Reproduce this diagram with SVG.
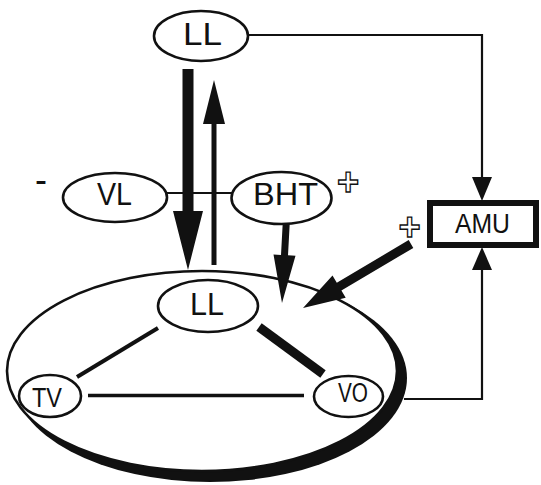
<svg xmlns="http://www.w3.org/2000/svg" width="541" height="485" viewBox="0 0 541 485">
<style>
.n{fill:#fff;stroke:#111;stroke-width:2.6}
.t{font-family:"Liberation Sans",Arial,sans-serif;fill:#111;text-anchor:middle}
.l{fill:none;stroke:#111;stroke-width:2.2}
.a{fill:#111;stroke:none}
.p{font-family:"Liberation Sans",Arial,sans-serif;font-weight:bold;font-size:38px;fill:#fff;stroke:#111;stroke-width:1.3;text-anchor:middle}
</style>
<rect width="541" height="485" fill="#fff"/>
<g id="system">
<ellipse cx="210" cy="378" rx="197" ry="104" fill="#111"/>
<ellipse cx="202" cy="371" rx="195" ry="100" class="n"/>
</g>
<g id="connectors">
<path class="l" d="M248,35 H482 V180"/>
<polygon class="a" points="472,177 492,177 482,201"/>
<path class="l" d="M404,399 H482 V266"/>
<polygon class="a" points="472,270 492,270 482,247"/>
<line class="l" x1="166" y1="193" x2="232" y2="193"/>
<path class="a" d="M182.5,69 H193.5 V211 H203 L188,270 L173,211 H182.5 Z"/>
<path class="a" d="M211.5,265 V124 H203 L214,80 L225,124 H216.5 V265 Z"/>
<path class="a" d="M283.5,208.8 L290.5,209.2 L288,255.3 L295.5,255.7 L282,303 L273.5,254.5 L281,254.9 Z"/>
<path class="a" d="M408.7,240.1 L413.3,247.9 L341.4,290.5 L345.7,297.8 L303,308 L332.5,275.4 L336.8,282.7 Z"/>
<line x1="158" y1="328" x2="77" y2="377" stroke="#111" stroke-width="4"/>
<line x1="88" y1="395.5" x2="304" y2="395.5" stroke="#111" stroke-width="3.5"/>
<line x1="259" y1="327" x2="323" y2="374" stroke="#111" stroke-width="9"/>
</g>
<g id="LL-top">
<ellipse cx="201" cy="36" rx="47" ry="25" class="n"/>
<text class="t" x="202.5" y="45" font-size="32" textLength="39" lengthAdjust="spacingAndGlyphs">LL</text>
</g>
<g id="VL">
<ellipse cx="115" cy="197.5" rx="52" ry="24.5" class="n"/>
<text class="t" x="114.5" y="205" font-size="32" textLength="35" lengthAdjust="spacingAndGlyphs">VL</text>
</g>
<g id="BHT">
<ellipse cx="281.5" cy="198" rx="50" ry="26" class="n"/>
<text class="t" x="285.5" y="205" font-size="32" textLength="65" lengthAdjust="spacingAndGlyphs">BHT</text>
</g>
<g id="AMU">
<rect x="430" y="203" width="106" height="42" fill="#fff" stroke="#111" stroke-width="6"/>
<text class="t" x="482.5" y="233" font-size="28" textLength="55" lengthAdjust="spacingAndGlyphs">AMU</text>
</g>
<g id="LL-inner">
<ellipse cx="208" cy="306" rx="50" ry="26" class="n"/>
<text class="t" x="207" y="315" font-size="32" textLength="34" lengthAdjust="spacingAndGlyphs">LL</text>
</g>
<g id="TV">
<ellipse cx="50" cy="396" rx="31" ry="21" class="n"/>
<text class="t" x="47" y="407" font-size="28" textLength="30" lengthAdjust="spacingAndGlyphs">TV</text>
</g>
<g id="VO">
<ellipse cx="348.5" cy="396.5" rx="34.5" ry="20.5" class="n"/>
<text class="t" x="353" y="402" font-size="27" textLength="30" lengthAdjust="spacingAndGlyphs">VO</text>
</g>
<g id="signs">
<text class="t" x="41" y="192" font-size="36" fill="#444" textLength="12" lengthAdjust="spacingAndGlyphs">-</text>
<text class="p" x="348" y="195">+</text>
<text class="p" x="409.5" y="240">+</text>
</g>
</svg>
